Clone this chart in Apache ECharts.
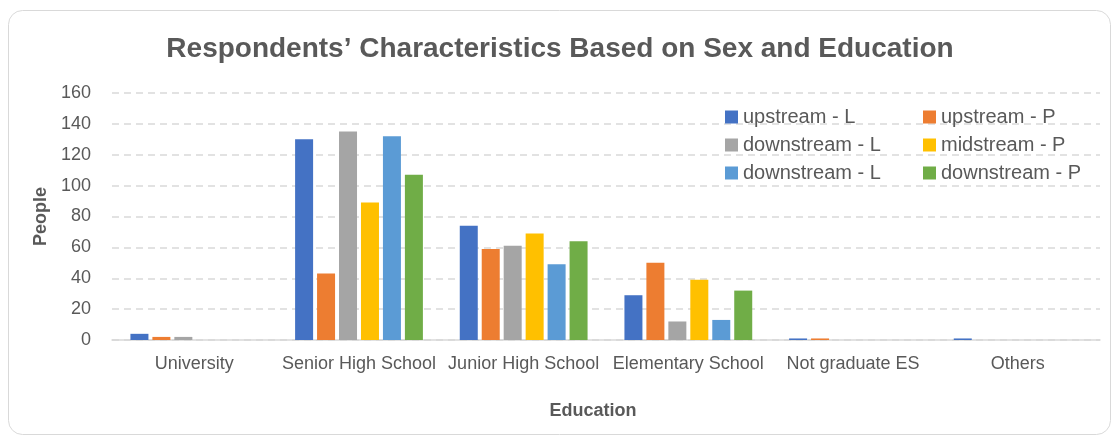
<!DOCTYPE html>
<html>
<head>
<meta charset="utf-8">
<script src="https://cdn.jsdelivr.net/npm/echarts@6/dist/echarts.min.js"></script>
<style>
html,body{margin:0;padding:0;background:#fff;}
#chart{width:1120px;height:437px;}
</style>
</head>
<body>
<div id="chart"></div>
<script>
const categories = ['University', 'Senior High School', 'Junior High School', 'Elementary School', 'Not graduate ES', 'Others'];
const seriesNames = ['upstream - L', 'upstream - P', 'downstream - L', 'midstream - P', 'downstream - L', 'downstream - P'];
const upstreamL = [4, 130, 74, 29, 1, 1];
const upstreamP = [2, 43, 59, 50, 1, 0];
const downstreamL1 = [2, 135, 61, 12, 0, 0];
const midstreamP = [0, 89, 69, 39, 0, 0];
const downstreamL2 = [0, 132, 49, 13, 0, 0];
const downstreamP = [0, 107, 64, 32, 0, 0];
const yTicks = [0, 20, 40, 60, 80, 100, 120, 140, 160];

const values = [upstreamL, upstreamP, downstreamL1, midstreamP, downstreamL2, downstreamP];
const colors = ['#4472C4', '#ED7D31', '#A5A5A5', '#FFC000', '#5B9BD5', '#70AD47'];
// unique internal ids for legend (two series share a display name)
const ids = seriesNames.map((n, i) => n + '#' + i);
const fmt = name => name.replace(/#\d+$/, '');
const txt = '#595959';
const font = '"Liberation Sans", Arial, sans-serif';

const chart = echarts.init(document.getElementById('chart'), null, {renderer: 'canvas'});
chart.setOption({
  animation: false,
  color: colors,
  textStyle: {fontFamily: font},
  graphic: [{
    type: 'rect',
    shape: {x: 8.5, y: 10.5, width: 1102, height: 424, r: 14},
    style: {fill: 'none', stroke: '#d9d9d9', lineWidth: 1},
    z: -10
  }],
  title: {
    text: 'Respondents’ Characteristics Based on Sex and Education',
    left: 'center',
    top: 30,
    textStyle: {fontFamily: font, fontSize: 28, fontWeight: 'bold', color: txt}
  },
  legend: [
    {
      data: [ids[0], ids[2], ids[4]],
      orient: 'vertical', left: 720, top: 102,
      itemWidth: 13, itemHeight: 13, itemGap: 8,
      icon: 'rect', formatter: fmt, selectedMode: false,
      textStyle: {fontFamily: font, fontSize: 20, color: txt}
    },
    {
      data: [ids[1], ids[3], ids[5]],
      orient: 'vertical', left: 918, top: 102,
      itemWidth: 13, itemHeight: 13, itemGap: 8,
      icon: 'rect', formatter: fmt, selectedMode: false,
      textStyle: {fontFamily: font, fontSize: 20, color: txt}
    }
  ],
  grid: {left: 112, right: 20, top: 93, bottom: 97, containLabel: false},
  xAxis: {
    type: 'category',
    data: categories,
    name: 'Education',
    nameLocation: 'middle',
    nameGap: 62,
    nameTextStyle: {fontFamily: font, fontSize: 18, fontWeight: 'bold', color: txt, padding: [0, 26, 0, 0]},
    axisLine: {lineStyle: {color: '#d9d9d9', width: 1.5}},
    axisTick: {show: false},
    axisLabel: {fontFamily: font, fontSize: 18, color: txt, margin: 15, interval: 0}
  },
  yAxis: {
    type: 'value',
    min: yTicks[0],
    max: yTicks[yTicks.length - 1],
    interval: yTicks[1] - yTicks[0],
    name: 'People',
    nameLocation: 'middle',
    nameGap: 60,
    nameTextStyle: {fontFamily: font, fontSize: 18, fontWeight: 'bold', color: txt},
    axisLine: {show: false},
    axisTick: {show: false},
    axisLabel: {fontFamily: font, fontSize: 18, color: txt, margin: 21},
    splitLine: {lineStyle: {color: '#d9d9d9', width: 1.5, type: [7, 5]}}
  },
  series: values.map((v, i) => ({
    name: ids[i],
    type: 'bar',
    data: v,
    barWidth: 18,
    barGap: '22%',
    itemStyle: {color: colors[i], borderWidth: 0}
  }))
});
</script>
</body>
</html>
